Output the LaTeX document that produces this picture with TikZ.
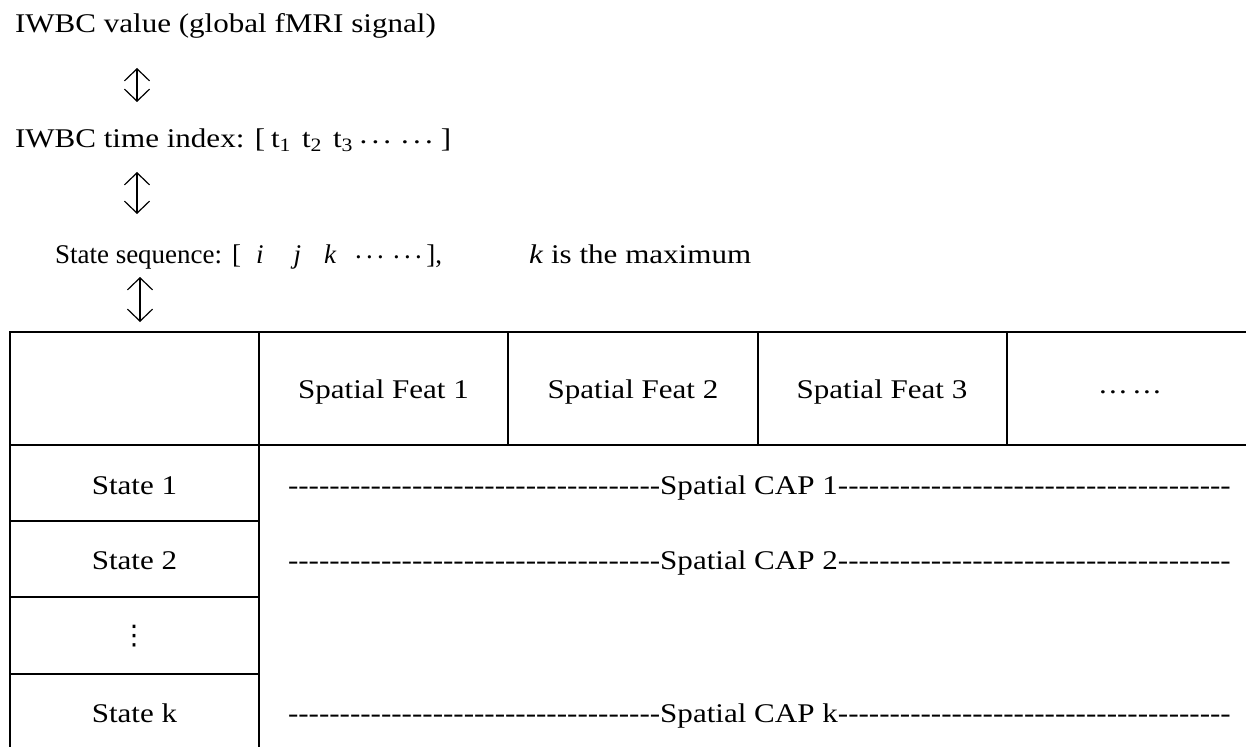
\documentclass[tikz,border=0pt]{standalone}
\usepackage{fontspec}
\setmainfont{Liberation Serif}
\newfontfamily\widefont{Liberation Serif}[FakeStretch=1.15]
\newfontfamily\symbolfont{DejaVu Sans}
\usetikzlibrary{arrows.meta}

% a run of single hyphens that never join into dashes
\newcount\dashcount
\newcommand\dashrun[1]{\dashcount=#1\relax
  \loop\ifnum\dashcount>0 \mbox{-}\advance\dashcount by -1 \repeat}
% three dots on the middle of the line, spaced by the optional kern
\newcommand\dotgroup[1][4.2pt]{\raisebox{4.5pt}{.\kern#1.\kern#1.}}

\begin{document}
\begin{tikzpicture}[x=1pt,y=-1pt,
  every node/.style={inner sep=0pt, outer sep=0pt},
  plaintext/.style={font=\fontsize{27}{32}\selectfont},
  widetext/.style={font=\widefont\fontsize{27}{32}\selectfont},
  gridline/.style={line width=1.7pt, line cap=rect},
  updown/.style={line width=1.2pt,
    {Straight Barb[length=12pt,width=25pt]}-{Straight Barb[length=12pt,width=25pt]}}]

\useasboundingbox (0,0) rectangle (1246,746);
\begin{scope}
\clip (0,0) rectangle (1246,746);

% ---- chain of descriptions ----
\node[widetext, anchor=base west] (value) at (15,33)
  {IWBC value (global fMRI signal)};
\node[widetext, anchor=base west] (tindex) at (15,148)
  {IWBC time index: [\hspace{6pt}t\textsubscript{1}\hspace{11pt}t\textsubscript{2}\hspace{11pt}t\textsubscript{3}\hspace{6.5pt}\dotgroup\hspace{10pt}\dotgroup\hspace{8pt}]};
\node[plaintext, anchor=base west] (seq) at (55,263)
  {State sequence:\hspace{10pt}[\hspace{15pt}\textit{i}\hspace{30pt}\textit{j}\hspace{23pt}\textit{k}\hspace{18.6pt}\dotgroup\hspace{9.4pt}\dotgroup\hspace{4.5pt}],\hspace{87pt}{\widefont\textit{k} is the maximum}};

\coordinate (a1t) at (137,68);  \coordinate (a1b) at (137,102);
\coordinate (a2t) at (137,172); \coordinate (a2b) at (137,214);
\coordinate (a3t) at (140,277); \coordinate (a3b) at (140,322);
\draw[updown] (a1t) -- (a1b);
\draw[updown] (a2t) -- (a2b);
\draw[updown] (a3t) -- (a3b);

% ---- table grid ----
\draw[gridline] (10,332) -- (1250,332);
\draw[gridline] (10,445) -- (1250,445);
\draw[gridline] (10,332) -- (10,760);
\draw[gridline] (259,332) -- (259,760);
\foreach \x in {508,758,1007}
  \draw[gridline] (\x,332) -- (\x,445);
\foreach \y in {521,597,674}
  \draw[gridline] (10,\y) -- (259,\y);

% ---- header row ----
\node[widetext, anchor=base] (f1) at (383.5,398) {Spatial Feat 1};
\node[widetext, anchor=base] (f2) at (633,398) {Spatial Feat 2};
\node[widetext, anchor=base] (f3) at (882,398) {Spatial Feat 3};
\node[widetext, anchor=base west] (fmore) at (1099,398)
  {\dotgroup[2.25pt]\hspace{6.25pt}\dotgroup[2.25pt]};

% ---- state rows ----
\node[widetext, anchor=base] (s1) at (134.5,494) {State 1};
\node[widetext, anchor=base] (s2) at (134.5,569) {State 2};
\node[font=\symbolfont\fontsize{27}{32}\selectfont, anchor=center] (sdots) at (134,636) {⋮};
\node[widetext, anchor=base] (sk) at (134.5,722) {State k};

\node[widetext, anchor=base west] (cap1) at (288,494)
  {\dashrun{36}Spatial CAP 1\dashrun{38}};
\node[widetext, anchor=base west] (cap2) at (288,569)
  {\dashrun{36}Spatial CAP 2\dashrun{38}};
\node[widetext, anchor=base west] (capk) at (288,722)
  {\dashrun{36}Spatial CAP k\dashrun{38}};
\end{scope}
\end{tikzpicture}
\end{document}
